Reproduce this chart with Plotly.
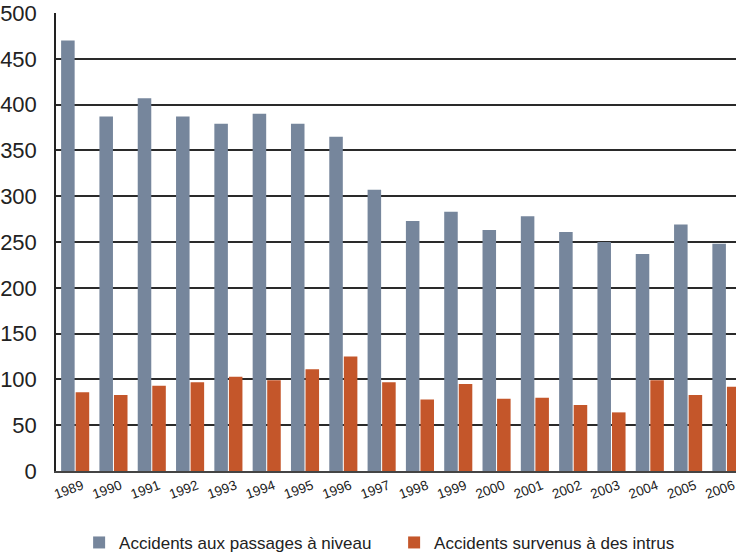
import plotly.graph_objects as go

years = [str(y) for y in range(1989, 2007)]
passages_niveau = [470, 387, 407, 387, 379, 390, 379, 365, 307, 273, 283, 263, 278, 261, 250, 237, 269, 248]
intrus = [86, 83, 93, 97, 103, 99, 111, 125, 97, 78, 95, 79, 80, 72, 64, 99, 83, 92]
y_ticks = [0, 50, 100, 150, 200, 250, 300, 350, 400, 450, 500]

font_family = "Liberation Sans, Arial, sans-serif"

fig = go.Figure()
fig.add_trace(go.Bar(x=years, y=passages_niveau, name="Accidents aux passages à niveau",
                     marker=dict(color="#76869c", line=dict(width=0))))
fig.add_trace(go.Bar(x=years, y=intrus, name="Accidents survenus à des intrus",
                     marker=dict(color="#c4562a", line=dict(width=0))))

fig.update_layout(
    width=736, height=555,
    margin=dict(l=56, r=0, t=13, b=84, autoexpand=False),
    paper_bgcolor="white", plot_bgcolor="white",
    barmode="group", bargap=0.24, bargroupgap=0.07,
    font=dict(family=font_family, color="#222"),
    showlegend=True,
    legend=dict(orientation="h", x=0.034, xanchor="left", y=-0.157, yanchor="middle",
                font=dict(size=17, color="#222"), entrywidth=270, entrywidthmode="pixels",
                itemsizing="constant", bgcolor="rgba(0,0,0,0)"),
)
fig.update_xaxes(
    type="category", range=[-0.5, 17.25], automargin=False,
    showline=True, linecolor="#444", linewidth=2,
    showgrid=False, ticks="", tickangle=-20, ticklabelshift=7,
    tickfont=dict(size=13.5, color="#222"),
)
fig.update_yaxes(
    range=[0, 500], tickvals=y_ticks, automargin=False,
    showline=True, linecolor="#222", linewidth=1.5,
    showgrid=True, gridcolor="#2a2a2a", gridwidth=1.5,
    ticks="", ticklabelstandoff=13, ticklabeloverflow="allow",
    tickfont=dict(size=22, color="#222"),
    zeroline=False,
)

fig.write_html("out.html", config={"displayModeBar": False},
               post_script="document.body.style.margin='0';document.body.style.overflow='hidden';")
